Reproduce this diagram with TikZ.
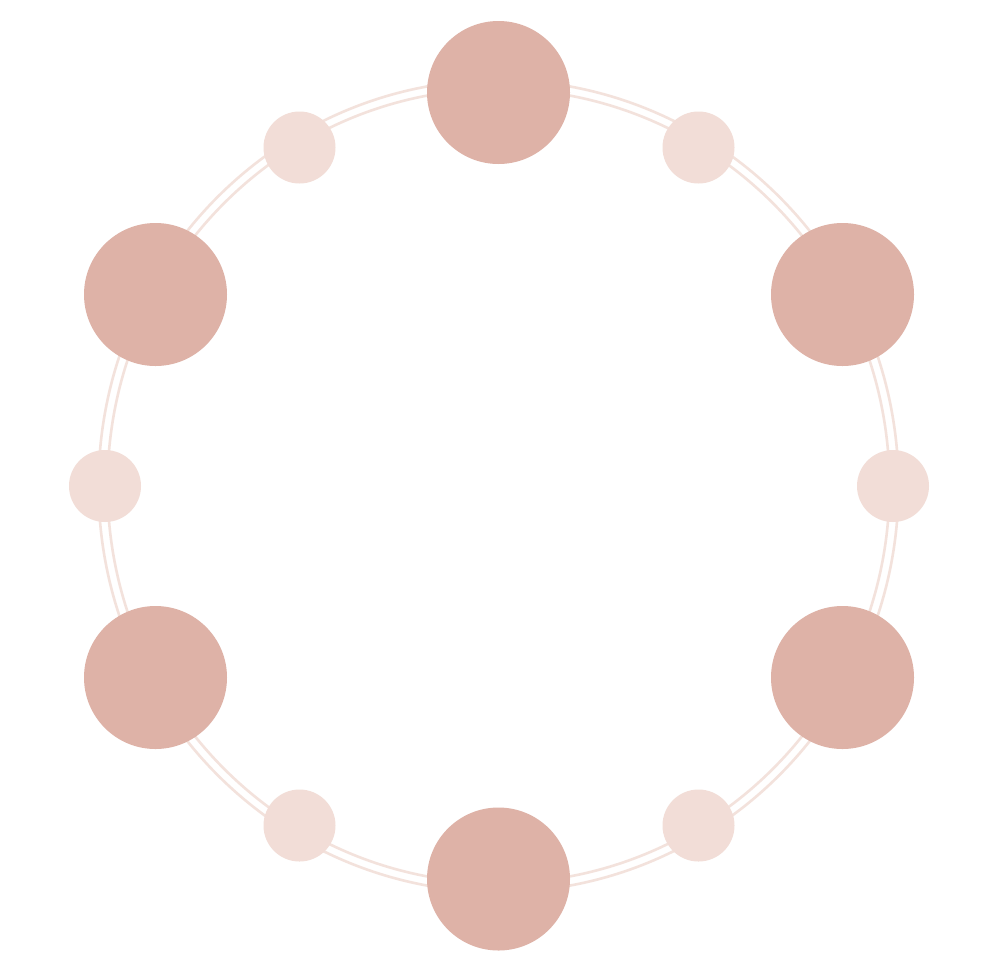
\documentclass[tikz,border=0pt]{standalone}
\begin{document}
\begin{tikzpicture}[x=1pt,y=-1pt,
  bigdot/.style={circle,fill=bigc,draw=none,minimum size=143pt,inner sep=0pt},
  smalldot/.style={circle,fill=smallc,draw=none,minimum size=72pt,inner sep=0pt},
  ringline/.style={draw=ringc,line width=2.6pt}]
\definecolor{bigc}{HTML}{DEB2A7}
\definecolor{smallc}{HTML}{F2DDD7}
\definecolor{ringc}{HTML}{F3E2DC}
\useasboundingbox[fill=white] (0,0) rectangle (1000,967);
\coordinate (c) at (498.5,486);
\draw[ringline] (c) ellipse [x radius=391, y radius=397];
\draw[ringline] (c) ellipse [x radius=400, y radius=406];
\node[bigdot] (b1) at (498.5,92.5) {};
\node[bigdot] (b2) at (842.5,294.5) {};
\node[bigdot] (b3) at (842.5,677.5) {};
\node[bigdot] (b4) at (498.5,879) {};
\node[bigdot] (b5) at (155.5,677.5) {};
\node[bigdot] (b6) at (155.5,294.5) {};
\node[smalldot] (s1) at (299.5,147.5) {};
\node[smalldot] (s2) at (698.5,147.5) {};
\node[smalldot] (s3) at (893,486) {};
\node[smalldot] (s4) at (698.5,825.5) {};
\node[smalldot] (s5) at (299.5,825.5) {};
\node[smalldot] (s6) at (105,486) {};
\end{tikzpicture}
\end{document}
